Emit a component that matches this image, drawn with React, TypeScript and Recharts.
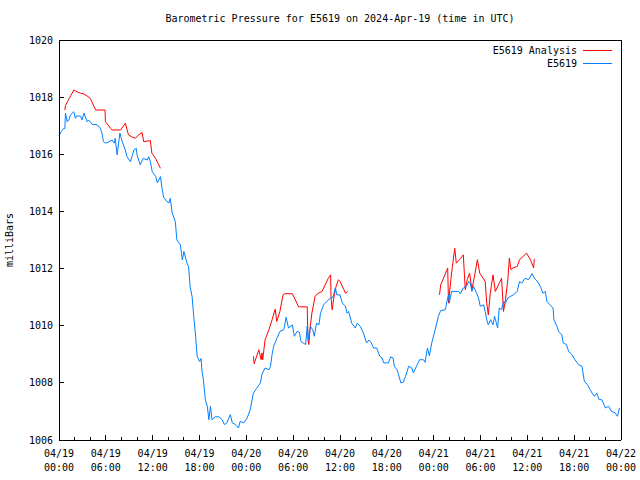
import { LineChart, Line, XAxis, YAxis } from 'recharts'

// hours since 2024-04-19 00:00 UTC
const stationHours = [
  0, 0.3, 0.6, 0.75, 0.83, 1.05, 1.25, 1.47, 1.9, 2.1, 2.25, 2.75, 2.95, 3.2, 3.6, 3.8,
  4.25, 4.9, 5.3, 5.5, 5.7, 5.95, 6.4, 6.8, 7.1, 7.2, 7.45, 7.8, 8.1, 8.5, 8.7, 9.15,
  9.6, 9.9, 10.0, 10.4, 10.8, 11.3, 11.5, 11.7, 11.95, 12.4, 12.6, 13.0, 13.2, 13.4,
  13.8, 14.1, 14.25, 14.5, 14.9, 15.1, 15.55, 15.8, 16.0, 16.4, 16.6, 16.8, 17.05,
  17.26, 17.5, 17.7, 18.0, 18.2, 18.3, 18.5, 18.75, 19.0, 19.2, 19.4, 19.6, 20.0, 20.5,
  20.9, 21.2, 21.5, 21.95, 22.2, 22.6, 23.0, 23.2, 23.66, 24.1, 24.5, 24.9, 25.3, 25.8,
  26.0, 26.4, 26.9, 27.1, 27.3, 27.5, 27.9, 28.3, 28.8, 29.1, 29.4, 29.9, 30.15, 30.5,
  30.8, 31.0, 31.6, 31.8, 32.0, 32.2, 32.5, 32.7, 33.0, 33.3, 33.5, 33.9, 34.3, 34.8,
  35.1, 35.4, 35.6, 36.0, 36.3, 36.7, 36.9, 37.1, 37.5, 37.96, 38.2, 38.6, 39.0, 39.4,
  39.7, 40.0, 40.3, 40.7, 41.1, 41.4, 41.6, 42.2, 42.5, 42.8, 42.96, 43.3, 43.5, 43.8,
  44.1, 44.4, 44.8, 45.2, 45.4, 45.9, 46.2, 46.7, 46.9, 47.2, 47.45, 47.8, 48.2, 48.6,
  48.9, 49.5, 49.7, 49.9, 50.0, 50.3, 51.2, 51.4, 51.8, 52.2, 52.5, 52.7, 52.9, 53.1,
  53.5, 53.75, 53.97, 54.4, 54.6, 54.8, 55.0, 55.3, 55.6, 55.8, 56.2, 56.4, 56.7, 56.95,
  57.2, 57.5, 57.8, 58.2, 58.7, 59.0, 59.3, 59.7, 60.15, 60.6, 61.0, 61.3, 61.65, 62.0,
  62.3, 62.5, 62.9, 63.3, 63.4, 63.8, 64.0, 64.4, 64.6, 65.0, 65.3, 65.7, 66.1, 66.55,
  67.0, 67.3, 67.7, 68.05, 68.3, 68.6, 68.9, 69.2, 69.55, 70.0, 70.4, 70.8, 71.25,
  71.55, 71.8,
]

const stationPressure = [
  1016.65, 1016.8, 1016.91, 1016.9, 1017.44, 1017.14, 1017.2, 1017.38, 1017.49, 1017.26,
  1017.34, 1017.34, 1017.2, 1017.44, 1017.14, 1017.2, 1017.05, 1017.03, 1016.91, 1016.74,
  1016.44, 1016.39, 1016.44, 1016.5, 1016.39, 1016.56, 1015.98, 1016.74, 1016.44, 1016.15,
  1015.92, 1015.74, 1016.15, 1016.21, 1015.98, 1015.63, 1015.86, 1015.8, 1015.92, 1015.74,
  1015.39, 1015.22, 1015.0, 1015.22, 1014.8, 1014.5, 1014.35, 1014.3, 1014.46, 1013.95,
  1013.65, 1013.0, 1012.83, 1012.3, 1012.6, 1012.19, 1012.07, 1011.37, 1011.02, 1010.33,
  1009.63, 1008.93, 1008.75, 1008.85, 1008.46, 1008.11, 1007.41, 1007.18, 1006.71, 1007.18,
  1006.71, 1006.81, 1006.81, 1006.71, 1006.54, 1006.6, 1006.89, 1006.6, 1006.54, 1006.42,
  1006.65, 1006.6, 1006.77, 1007.06, 1007.64, 1007.8, 1008.0, 1008.3, 1008.52, 1008.46,
  1008.58, 1009.0, 1009.28, 1009.55, 1009.8, 1009.86, 1010.3, 1009.92, 1010.03, 1009.63,
  1009.8, 1009.77, 1009.45, 1009.34, 1009.98, 1009.5, 1009.98, 1009.86, 1009.63, 1010.09,
  1010.03, 1010.44, 1010.73, 1010.85, 1010.97, 1011.0, 1011.32, 1011.08, 1011.08, 1010.79,
  1010.68, 1010.44, 1010.5, 1010.09, 1009.92, 1010.09, 1009.98, 1009.74, 1009.4, 1009.5,
  1009.4, 1009.22, 1009.22, 1008.93, 1008.87, 1008.7, 1008.7, 1008.91, 1008.87, 1008.58,
  1008.46, 1008.29, 1008.0, 1008.02, 1008.23, 1008.58, 1008.52, 1008.35, 1008.64, 1008.81,
  1008.81, 1008.72, 1009.22, 1008.95, 1009.45, 1009.86, 1010.33, 1010.53, 1010.56, 1010.85,
  1011.08, 1010.79, 1011.2, 1011.2, 1011.12, 1011.32, 1011.38, 1011.55, 1011.49, 1011.2,
  1011.38, 1011.14, 1010.97, 1010.68, 1010.73, 1010.5, 1010.21, 1010.03, 1010.21, 1010.03,
  1010.33, 1009.92, 1010.62, 1010.56, 1010.85, 1010.79, 1010.97, 1011.02, 1011.08, 1011.2,
  1011.55, 1011.49, 1011.66, 1011.61, 1011.82, 1011.63, 1011.55, 1011.38, 1011.14, 1011.2,
  1010.85, 1010.73, 1010.62, 1010.21, 1009.98, 1009.8, 1009.69, 1009.4, 1009.34, 1009.1,
  1008.99, 1008.81, 1008.64, 1008.58, 1008.06, 1007.94, 1007.76, 1007.64, 1007.53, 1007.64,
  1007.41, 1007.41, 1007.12, 1007.18, 1007.0, 1006.95, 1006.83, 1007.12,
]

// null = no analysis value (gap in the line)
const analysisHours = [
  0.75, 0.83, 1.1, 1.5, 1.9, 2.3, 2.75, 3.2, 3.6, 4.0, 4.7, 5.9, 5.95, 6.6, 6.8, 7.9,
  8.5, 8.9, 9.4, 9.8, 10.2, 10.65, 10.85, 11.7, 11.9, 12.35, 13.0,
  18,
  24.9, 25.0, 25.6, 25.9, 26.0, 26.1, 26.4, 26.9, 27.3, 27.7, 27.9, 28.3, 28.7, 28.9,
  29.9, 30.7, 31.8, 31.9, 32.0, 32.2, 32.4, 32.8, 33.1, 33.7, 34.1, 34.5, 34.8, 34.85,
  35.0, 35.2, 35.5, 35.8, 36.0, 36.5, 36.7, 37.0,
  42,
  48.75, 48.9, 49.35, 49.8, 49.9, 50.2, 50.4, 50.7, 50.9, 51.3, 51.8, 52.05, 52.3, 52.6,
  52.9, 53.3, 53.6, 53.9, 54.6, 54.8, 55.0, 55.25, 55.6, 55.9, 56.4, 56.7, 56.95, 57.2,
  57.5, 57.7, 57.9, 58.15, 58.7, 59.0, 59.9, 60.4, 60.7, 60.8, 60.9,
]

const analysisPressure = [
  1017.55, 1017.7, 1017.85, 1018.05, 1018.25, 1018.19, 1018.14, 1018.11, 1018.04, 1017.96,
  1017.55, 1017.55, 1017.14, 1016.91, 1016.85, 1016.85, 1017.09, 1016.68, 1016.6, 1016.56,
  1016.68, 1016.76, 1016.44, 1016.48, 1016.04, 1015.86, 1015.51,
  null,
  1008.93, 1008.67, 1009.16, 1008.81, 1009.05, 1008.81, 1009.51, 1009.86, 1010.21, 1010.58,
  1010.15, 1010.5, 1011.08, 1011.12, 1011.12, 1010.66, 1010.66, 1009.5, 1009.34, 1009.98,
  1010.44, 1011.02, 1011.12, 1011.2, 1011.43, 1011.66, 1011.78, 1010.97, 1010.56, 1010.97,
  1011.38, 1011.61, 1011.55, 1011.26, 1011.14, 1011.2,
  null,
  1011.08, 1011.43, 1011.72, 1012.02, 1010.79, 1011.61, 1012.07, 1012.71, 1012.19, 1012.31,
  1012.48, 1011.26, 1011.61, 1011.84, 1011.26, 1011.84, 1012.31, 1011.84, 1011.55, 1010.79,
  1010.38, 1011.14, 1011.78, 1011.2, 1011.49, 1011.66, 1010.5, 1010.91, 1011.61, 1012.37,
  1011.96, 1012.02, 1012.07, 1012.31, 1012.54, 1012.31, 1012.1, 1012.02, 1012.33,
]

const majorDates = ['04/19', '04/19', '04/19', '04/19', '04/20', '04/20', '04/20', '04/20', '04/21', '04/21', '04/21', '04/21', '04/22']
const majorTimes = ['00:00', '06:00', '12:00', '18:00', '00:00', '06:00', '12:00', '18:00', '00:00', '06:00', '12:00', '18:00', '00:00']
const yTicks = [1006, 1008, 1010, 1012, 1014, 1016, 1018, 1020]
const xTicks = Array.from({ length: 37 }, (_, i) => i * 2)

const stationData = stationHours.map((h, i) => ({ h, p: stationPressure[i] }))
const analysisData = analysisHours.map((h, i) => ({ h, p: analysisPressure[i] }))

const FONT = '"DejaVu Sans Mono", "Liberation Mono", monospace'
const RED = '#ff0000'
const BLUE = '#0080ff'

function BottomTick({ x, y, payload }: any) {
  const i = payload.value / 6
  const major = Number.isInteger(i)
  return (
    <g>
      <line x1={x} x2={x} y1={y} y2={y - (major ? 5 : 3)} stroke="#000" shapeRendering="crispEdges" />
      {major && (
        <text x={x} y={y + 17} textAnchor="middle" fontFamily={FONT} fontSize={10} fill="#000">
          <tspan x={x}>{majorDates[i]}</tspan>
          <tspan x={x} dy={14}>{majorTimes[i]}</tspan>
        </text>
      )}
    </g>
  )
}

function TopTick({ x, y, payload }: any) {
  const major = payload.value % 6 === 0
  return <line x1={x} x2={x} y1={y} y2={y + (major ? 5 : 3)} stroke="#000" shapeRendering="crispEdges" />
}

function LeftTick({ x, y, payload }: any) {
  return (
    <g>
      <line x1={x} x2={x + 5} y1={y} y2={y} stroke="#000" shapeRendering="crispEdges" />
      <text x={x - 6} y={y + 3.5} textAnchor="end" fontFamily={FONT} fontSize={10} fill="#000">
        {payload.value}
      </text>
    </g>
  )
}

function RightTick({ x, y }: any) {
  return <line x1={x} x2={x - 5} y1={y} y2={y} stroke="#000" shapeRendering="crispEdges" />
}

const axisLine = { stroke: '#000', shapeRendering: 'crispEdges' }

export default function App() {
  return (
    <div style={{ position: 'absolute', left: 0, top: 0, width: 640, height: 480, background: '#fff', fontFamily: FONT, fontSize: 10, color: '#000' }}>
      <LineChart width={640} height={480} margin={{ top: 39, right: 18, bottom: 0, left: 0 }}>
        <XAxis
          type="number"
          dataKey="h"
          domain={[0, 72]}
          ticks={xTicks}
          interval={0}
          height={40}
          tickSize={0}
          tickMargin={0}
          tickLine={false}
          axisLine={axisLine}
          tick={<BottomTick />}
        />
        <XAxis
          xAxisId="top"
          orientation="top"
          type="number"
          dataKey="h"
          domain={[0, 72]}
          ticks={xTicks}
          interval={0}
          height={1}
          tickSize={0}
          tickMargin={0}
          tickLine={false}
          axisLine={axisLine}
          tick={<TopTick />}
        />
        <YAxis
          type="number"
          domain={[1006, 1020]}
          ticks={yTicks}
          interval={0}
          width={59}
          tickSize={0}
          tickMargin={0}
          tickLine={false}
          axisLine={axisLine}
          tick={<LeftTick />}
        />
        <YAxis
          yAxisId="right"
          orientation="right"
          type="number"
          domain={[1006, 1020]}
          ticks={yTicks}
          interval={0}
          width={1}
          tickSize={0}
          tickMargin={0}
          tickLine={false}
          axisLine={axisLine}
          tick={<RightTick />}
        />
        <Line
          data={analysisData}
          dataKey="p"
          name="E5619 Analysis"
          type="linear"
          stroke={RED}
          strokeWidth={1}
          dot={false}
          isAnimationActive={false}
        />
        <Line
          data={stationData}
          dataKey="p"
          name="E5619"
          type="linear"
          stroke={BLUE}
          strokeWidth={1}
          dot={false}
          isAnimationActive={false}
        />
      </LineChart>

      <div style={{ position: 'absolute', left: 59, width: 562, top: 13, textAlign: 'center', lineHeight: '12px' }}>
        Barometric Pressure for E5619 on 2024-Apr-19 (time in UTC)
      </div>

      <div
        style={{
          position: 'absolute', left: 10, top: 240, whiteSpace: 'nowrap', lineHeight: '12px',
          transform: 'translate(-50%, -50%) rotate(-90deg)',
        }}
      >
        milliBars
      </div>

      <div style={{ position: 'absolute', right: 28, top: 44, textAlign: 'right', lineHeight: '13px' }}>
        {[['E5619 Analysis', RED], ['E5619', BLUE]].map(([label, color]) => (
          <div key={label} style={{ display: 'flex', alignItems: 'center', justifyContent: 'flex-end' }}>
            <span>{label}</span>
            <span style={{ display: 'inline-block', width: 29, height: 1, background: color, marginLeft: 6 }} />
          </div>
        ))}
      </div>
    </div>
  )
}
